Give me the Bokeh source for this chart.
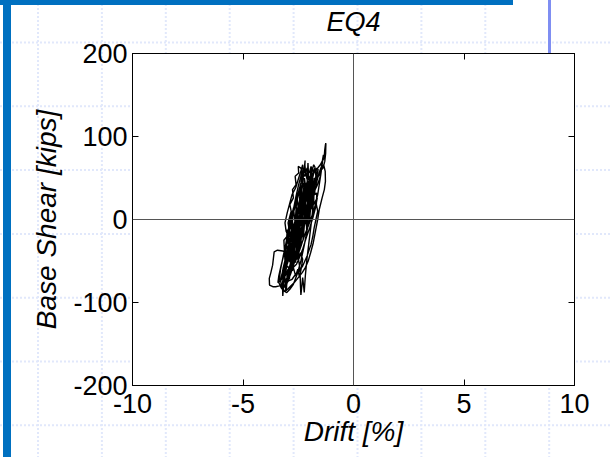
from urllib.parse import quote

from bokeh.embed import file_html
from bokeh.models import FixedTicker, LinearAxis, Range1d, Span
from bokeh.plotting import figure
from bokeh.resources import INLINE

# Axis ticks
x_ticks = [-10, -5, 0, 5, 10]
y_ticks = [-200, -100, 0, 100, 200]
x_tick_labels = {-10: "-10", -5: "-5", 0: "0", 5: "5", 10: "10"}
y_tick_labels = {-200: "-200", -100: "-100", 0: "0", 100: "100", 200: "200"}

# Hysteresis trace (drift %, base shear kips), recorded cycle by cycle
cycle_a = [(-2.35, 0), (-2.30, 6), (-2.36, -2), (-2.42, -9), (-2.37, -3), (-2.28, 8),
           (-2.22, 15), (-2.27, 9), (-2.38, -4), (-2.50, -16), (-2.58, -24), (-2.52, -18),
           (-2.40, -3), (-2.28, 12), (-2.15, 28), (-2.08, 36), (-2.14, 27), (-2.26, 12),
           (-2.40, -6), (-2.55, -22), (-2.70, -35), (-2.78, -44), (-2.70, -37), (-2.55, -20),
           (-2.40, -2), (-2.25, 18), (-2.10, 35), (-1.98, 48), (-1.92, 55), (-2.00, 45),
           (-2.15, 28), (-2.32, 8), (-2.50, -14), (-2.66, -32), (-2.82, -50), (-2.95, -62),
           (-3.02, -70), (-2.95, -64), (-2.80, -48), (-2.62, -26), (-2.45, -4), (-2.30, 14),
           (-2.12, 34), (-1.95, 52), (-1.80, 66), (-1.74, 63)]
cycle_b = [(-1.85, 50), (-2.02, 36), (-2.20, 18), (-2.45, -8), (-2.70, -28), (-2.95, -40),
           (-3.20, -38), (-3.44, -37), (-3.59, -39), (-3.66, -55), (-3.74, -64), (-3.81, -71),
           (-3.80, -79), (-3.65, -81), (-3.52, -81), (-3.35, -80), (-3.21, -80), (-3.20, -92),
           (-3.15, -75), (-3.05, -60), (-2.92, -42), (-2.80, -28), (-2.66, -10), (-2.52, 6)]
cycle_c = [(-2.38, 20), (-2.22, 34), (-2.05, 44), (-1.90, 52), (-1.75, 58), (-1.62, 62),
           (-1.50, 66), (-1.42, 70), (-1.33, 74), (-1.30, 84), (-1.27, 90), (-1.25, 92),
           (-1.26, 80), (-1.30, 70), (-1.38, 62), (-1.45, 60), (-1.35, 66), (-1.28, 58),
           (-1.27, 46), (-1.32, 36), (-1.42, 26), (-1.55, 12), (-1.62, 0), (-1.72, -14),
           (-1.82, -28), (-1.94, -40), (-2.05, -50), (-2.18, -58), (-2.32, -64), (-2.50, -70),
           (-2.68, -76), (-2.84, -80), (-2.98, -84), (-3.10, -86)]
cycle_d = [(-3.02, -78), (-2.90, -64), (-2.78, -50), (-2.65, -34), (-2.50, -16), (-2.35, 2),
           (-2.20, 20), (-2.05, 36), (-1.92, 48), (-1.82, 56), (-1.72, 60), (-1.65, 58),
           (-1.70, 50), (-1.82, 36), (-1.98, 18), (-2.15, 0), (-2.32, -18), (-2.50, -36),
           (-2.68, -52), (-2.85, -66), (-3.00, -76), (-3.12, -82), (-3.05, -74), (-2.92, -60),
           (-2.78, -44), (-2.62, -26), (-2.46, -8), (-2.30, 10), (-2.15, 28), (-2.02, 42),
           (-1.90, 52), (-1.80, 58)]
cycle_e = [(-1.88, 50), (-2.00, 46), (-2.10, 52), (-2.18, 60), (-2.20, 66), (-2.19, 71),
           (-2.25, 55), (-2.35, 38), (-2.45, 18), (-2.55, -4), (-2.60, -24), (-2.52, -42),
           (-2.42, -60), (-2.40, -80), (-2.38, -91), (-2.30, -70), (-2.25, -82), (-2.23, -88),
           (-2.18, -68), (-2.10, -46), (-2.00, -24), (-1.90, -2), (-1.82, 18), (-1.78, 40),
           (-1.85, 30), (-1.95, 10), (-2.08, -10), (-2.22, -30), (-2.38, -50), (-2.55, -66),
           (-2.72, -78), (-2.88, -84), (-3.02, -88), (-3.15, -86), (-3.28, -82), (-3.38, -76)]
cycle_f = [(-3.30, -60), (-3.18, -44), (-3.04, -28), (-2.90, -12), (-2.76, 4), (-2.62, 18),
           (-2.48, 30), (-2.36, 40), (-2.28, 44), (-2.35, 34), (-2.48, 18), (-2.62, 0),
           (-2.78, -18), (-2.92, -34), (-3.05, -48), (-3.00, -54), (-2.88, -44), (-2.74, -28),
           (-2.60, -12), (-2.45, 4), (-2.30, 20), (-2.16, 34), (-2.04, 46), (-1.95, 52),
           (-2.05, 42), (-2.20, 26), (-2.36, 8), (-2.52, -10), (-2.68, -28), (-2.82, -42),
           (-2.90, -50), (-2.80, -44), (-2.66, -30), (-2.50, -14), (-2.34, 4), (-2.18, 22),
           (-2.02, 38), (-1.88, 50), (-1.76, 58), (-1.66, 62), (-1.60, 60), (-1.68, 50),
           (-1.80, 38), (-1.96, 22), (-2.12, 6), (-2.28, -10), (-2.44, -26), (-2.60, -40),
           (-2.74, -52), (-2.86, -60), (-2.95, -64)]
cycle_h = [(-2.88, -56), (-2.72, -40), (-2.58, -22), (-2.50, -10), (-2.60, -20), (-2.85, -26),
           (-3.05, -14), (-3.10, -4), (-3.00, 8), (-2.88, 20), (-2.78, 30), (-2.62, 38),
           (-2.48, 50), (-2.36, 60), (-2.30, 66), (-2.28, 58), (-2.38, 44), (-2.52, 30),
           (-2.66, 18), (-2.80, 6), (-2.92, -8), (-3.00, -20), (-3.08, -32), (-3.12, -44)]
cycle_g = [(-3.00, -40), (-2.85, -24), (-2.70, -8), (-2.56, 6), (-2.42, 20), (-2.30, 32),
           (-2.20, 40), (-2.12, 44), (-2.18, 34), (-2.28, 20), (-2.40, 4), (-2.54, -12),
           (-2.68, -28), (-2.80, -38), (-2.70, -30), (-2.56, -16), (-2.42, 0), (-2.30, 14),
           (-2.20, 26), (-2.26, 18), (-2.34, 8), (-2.40, 0)]
cycle_i = [(-2.25, -8), (-2.05, 2), (-1.90, 16), (-1.78, 30), (-1.68, 44), (-1.56, 56),
           (-1.45, 64), (-1.40, 72), (-1.36, 78), (-1.42, 66), (-1.55, 54), (-1.72, 46),
           (-1.92, 38), (-2.12, 28), (-2.35, 16), (-2.58, 2), (-2.80, -12), (-2.98, -26),
           (-3.15, -42), (-3.28, -56), (-3.38, -68), (-3.42, -76), (-3.30, -74), (-3.12, -66),
           (-2.95, -60), (-2.78, -56), (-2.62, -50), (-2.48, -40), (-2.35, -30), (-2.20, -18),
           (-2.02, -6), (-1.86, 6), (-1.72, 18), (-1.62, 30), (-1.55, 42), (-1.48, 54),
           (-1.44, 62), (-1.52, 50), (-1.66, 40), (-1.85, 30), (-2.05, 20), (-2.28, 10),
           (-2.50, -2), (-2.72, -14), (-2.90, -28), (-3.05, -44), (-3.18, -58), (-3.26, -70),
           (-3.10, -68), (-2.92, -62), (-2.74, -58), (-2.58, -54), (-2.45, -46), (-2.30, -36),
           (-2.14, -22), (-1.98, -10), (-1.84, 2), (-1.72, 14), (-1.64, 26), (-1.76, 20),
           (-1.95, 12), (-2.15, 4), (-2.38, -6), (-2.60, -16), (-2.80, -28), (-2.96, -40),
           (-3.08, -54)]
cycle_k = [(-2.95, -50), (-2.90, -30), (-2.85, -55), (-2.75, -25), (-2.70, -50), (-2.60, -15),
           (-2.55, -42), (-2.45, -5), (-2.42, -35), (-2.30, 5), (-2.28, -25), (-2.15, 18),
           (-2.12, -12), (-2.00, 30), (-1.98, 0), (-1.88, 42), (-1.86, 12), (-1.78, 50),
           (-1.80, 20), (-1.90, 40), (-2.02, 15), (-2.10, 35), (-2.25, 5), (-2.35, 25),
           (-2.50, -10), (-2.58, 15), (-2.70, -25), (-2.78, 0), (-2.90, -38), (-2.98, -12),
           (-3.10, -50), (-3.15, -25)]
cycle_l = [(-3.00, -20), (-2.85, -5), (-2.72, 12), (-2.60, 28), (-2.50, 40), (-2.40, 50),
           (-2.32, 58), (-2.20, 52), (-2.10, 62), (-2.00, 56), (-1.92, 64), (-1.84, 58),
           (-1.74, 62), (-1.70, 52), (-1.82, 44), (-1.96, 34), (-2.12, 24), (-2.28, 14),
           (-2.45, 2), (-2.62, -12), (-2.78, -26), (-2.92, -40), (-3.05, -52), (-3.15, -62),
           (-3.22, -70), (-3.10, -60)]
cycle_m = [(-2.98, -56), (-2.85, -64), (-2.72, -58), (-2.62, -68), (-2.52, -60), (-2.44, -70),
           (-2.36, -58), (-2.30, -48), (-2.40, -40), (-2.55, -48), (-2.70, -42), (-2.85, -52),
           (-3.00, -46), (-3.12, -56), (-3.22, -64), (-3.30, -72), (-3.25, -84), (-3.18, -70),
           (-3.08, -62)]
cycle_n = [(-3.05, -60), (-2.96, -40), (-3.02, -30), (-2.90, -14), (-2.96, -4), (-2.82, 10),
           (-2.88, 18), (-2.72, 26), (-2.76, 36), (-2.60, 42), (-2.64, 52), (-2.48, 56),
           (-2.50, 64), (-2.38, 62), (-2.30, 54), (-2.18, 58), (-2.10, 48), (-1.98, 52),
           (-1.90, 40), (-1.78, 44), (-1.74, 30), (-1.66, 32), (-1.68, 18), (-1.62, 10),
           (-1.70, 0), (-1.78, -10), (-1.84, -20), (-1.92, -30), (-2.00, -36), (-2.10, -44),
           (-2.20, -50), (-2.30, -56), (-2.46, -62), (-2.62, -66), (-2.78, -72), (-2.94, -74),
           (-3.06, -78), (-3.18, -80)]
cycle_o = [(-3.10, -70), (-3.04, -86), (-2.98, -60), (-2.90, -72), (-2.82, -40), (-2.76, -62),
           (-2.68, -30), (-2.62, -52), (-2.55, -18), (-2.50, -44), (-2.42, -6), (-2.38, -30),
           (-2.30, 10), (-2.26, -16), (-2.18, 24), (-2.14, -4), (-2.06, 36), (-2.02, 8),
           (-1.94, 46), (-1.92, 20), (-1.86, 56), (-1.84, 30), (-1.92, 62), (-2.00, 34),
           (-2.06, 68), (-2.12, 30), (-2.22, 50), (-2.30, 20), (-2.40, 40), (-2.48, 8),
           (-2.56, 28), (-2.64, -4), (-2.72, 14), (-2.80, -18), (-2.88, 2), (-2.94, -30),
           (-3.00, -12), (-3.06, -40)]

trace = (cycle_a + cycle_b + cycle_c + cycle_d + cycle_e + cycle_f + cycle_h + cycle_g
         + cycle_i + cycle_k + cycle_l + cycle_m + cycle_n + cycle_o)
drift = [pt[0] for pt in trace]
shear = [pt[1] for pt in trace]

FONT = "Liberation Sans"

# Slide backdrop: faint dashed grid and the blue accent bars
bg = ['<svg xmlns="http://www.w3.org/2000/svg" width="610" height="457">']
for k in range(9):
    gx = 38 + 63.9 * k
    bg.append(f'<line x1="{gx:.1f}" y1="0" x2="{gx:.1f}" y2="457" stroke="#e1e8fb" '
              f'stroke-width="2" stroke-dasharray="2 2"/>')
for k in range(7):
    gy = 42.5 + 63.8 * k
    bg.append(f'<line x1="0" y1="{gy:.1f}" x2="610" y2="{gy:.1f}" stroke="#e1e8fb" '
              f'stroke-width="2" stroke-dasharray="2 2"/>')
bg.append('<rect x="0" y="0" width="513" height="5" fill="#0070c0"/>')
bg.append('<rect x="3" y="0" width="8" height="457" fill="#0070c0"/>')
bg.append('<rect x="548" y="0" width="3" height="55" fill="#7f8ef2"/>')
bg.append('</svg>')
bg_uri = 'url("data:image/svg+xml;utf8,' + quote("".join(bg)) + '")'

p = figure(width=610, height=457, output_backend="svg", toolbar_location=None,
           x_range=Range1d(-10, 10), y_range=Range1d(-200, 200),
           min_border_left=132, min_border_right=36, min_border_top=53, min_border_bottom=72,
           background_fill_color="white", border_fill_alpha=0,
           outline_line_color="black", outline_line_width=1)
p.styles = {"background-color": "white", "background-image": bg_uri,
            "background-repeat": "no-repeat"}
p.grid.visible = False


def style_axis(ax, labels):
    ax.major_tick_in = 6
    ax.major_tick_out = 0
    ax.minor_tick_line_color = None
    ax.major_tick_line_color = "black"
    ax.axis_line_color = "black"
    ax.major_label_text_font = FONT
    ax.major_label_text_font_size = "27px"
    ax.major_label_text_color = "black"
    ax.axis_label_text_font = FONT
    ax.axis_label_text_font_style = "italic"
    ax.axis_label_text_font_size = "28px"
    ax.axis_label_text_color = "black"
    if labels is not None:
        ax.major_label_overrides = labels


p.xaxis.ticker = FixedTicker(ticks=x_ticks)
p.yaxis.ticker = FixedTicker(ticks=y_ticks)
p.xaxis.axis_label = "Drift [%]"
p.yaxis.axis_label = "Base Shear [kips]"
style_axis(p.xaxis[0], x_tick_labels)
style_axis(p.yaxis[0], y_tick_labels)
p.xaxis.major_label_standoff = 8
p.yaxis.major_label_standoff = 5
p.xaxis.axis_label_standoff = 0
p.yaxis.axis_label_standoff = 8

# Box ticks on the top and right edges (tick marks only); the top one carries the title
top = LinearAxis(ticker=FixedTicker(ticks=x_ticks), axis_label="EQ4")
right = LinearAxis(ticker=FixedTicker(ticks=y_ticks))
for ax in (top, right):
    style_axis(ax, None)
    ax.major_label_text_font_size = "1px"
    ax.major_label_text_color = None
    ax.major_label_standoff = 0
top.axis_label_text_font_size = "27px"
top.axis_label_standoff = 17
p.add_layout(top, "above")
p.add_layout(right, "right")

# Zero reference lines
p.add_layout(Span(location=0, dimension="height", line_color="#555555", line_width=1))
p.add_layout(Span(location=0, dimension="width", line_color="#555555", line_width=1))

p.line(drift, shear, line_color="black", line_width=1.4)

open("out.html", "w").write(file_html(p, INLINE))
